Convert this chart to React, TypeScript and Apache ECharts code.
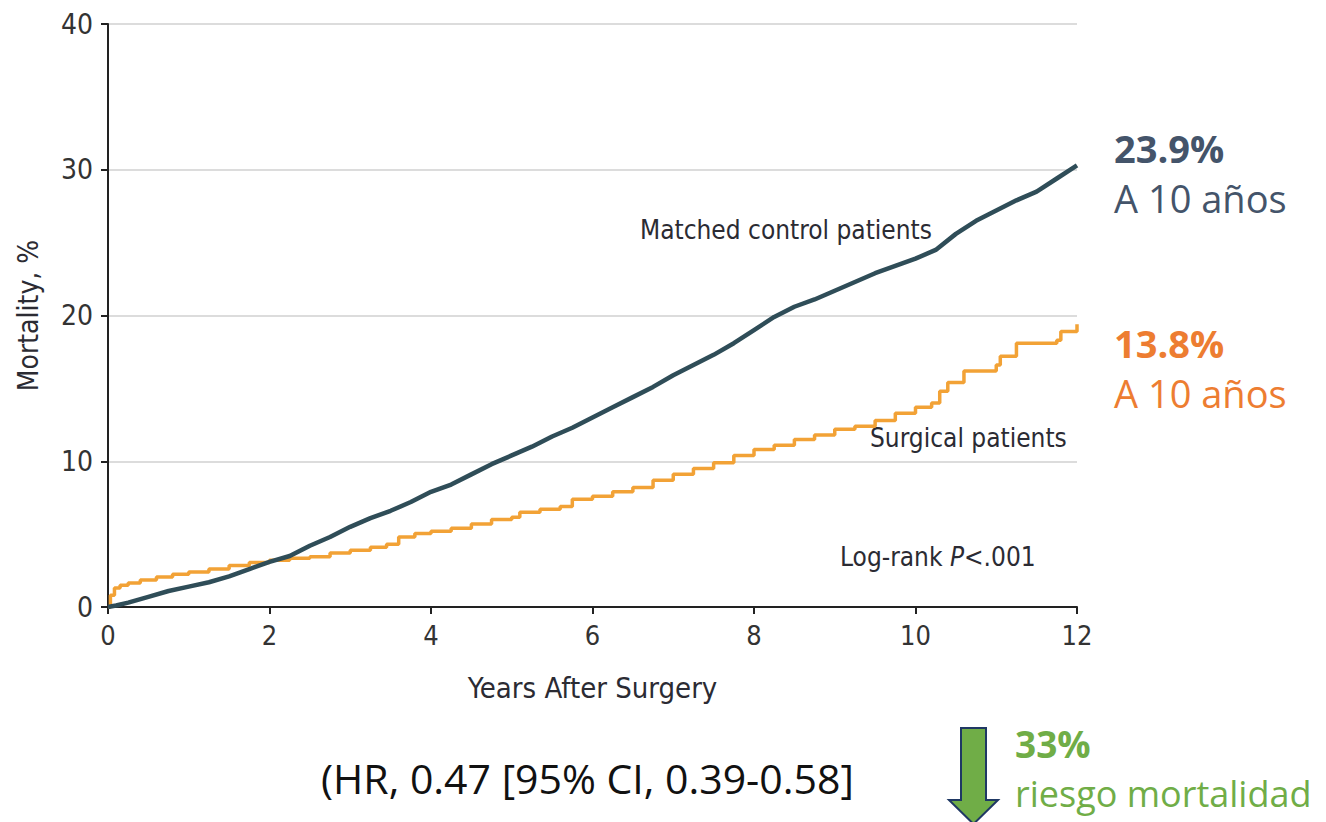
import React, { useEffect, useRef } from "react";
import * as echarts from "echarts";

// Cumulative mortality (%) by years after surgery
const controlYears = [0, 0.1, 0.25, 0.5, 0.75, 1.0, 1.25, 1.5, 1.75, 2.0, 2.25, 2.5, 2.75, 3.0, 3.25, 3.5, 3.75, 4.0, 4.25, 4.5, 4.75, 5.0, 5.25, 5.5, 5.75, 6.0, 6.25, 6.5, 6.75, 7.0, 7.25, 7.5, 7.75, 8.0, 8.25, 8.5, 8.75, 9.0, 9.25, 9.5, 9.75, 10.0, 10.25, 10.5, 10.75, 11.0, 11.25, 11.5, 11.75, 12.0];
const controlMortality = [0, 0.1, 0.3, 0.7, 1.1, 1.4, 1.7, 2.1, 2.6, 3.1, 3.5, 4.2, 4.8, 5.5, 6.1, 6.6, 7.2, 7.9, 8.4, 9.1, 9.8, 10.4, 11.0, 11.7, 12.3, 13.0, 13.7, 14.4, 15.1, 15.9, 16.6, 17.3, 18.1, 19.0, 19.9, 20.6, 21.1, 21.7, 22.3, 22.9, 23.4, 23.9, 24.5, 25.6, 26.5, 27.2, 27.9, 28.5, 29.4, 30.3];

const surgicalYears = [0, 0.03, 0.08, 0.15, 0.25, 0.4, 0.6, 0.8, 1.0, 1.25, 1.5, 1.75, 2.0, 2.25, 2.5, 2.75, 3.0, 3.25, 3.45, 3.6, 3.8, 4.0, 4.25, 4.5, 4.75, 5.0, 5.1, 5.35, 5.6, 5.75, 6.0, 6.25, 6.5, 6.75, 7.0, 7.25, 7.5, 7.75, 8.0, 8.25, 8.5, 8.75, 9.0, 9.25, 9.5, 9.75, 10.0, 10.2, 10.3, 10.4, 10.6, 11.0, 11.05, 11.25, 11.75, 11.8, 12.0];
const surgicalMortality = [0, 0.8, 1.3, 1.5, 1.65, 1.85, 2.05, 2.25, 2.4, 2.6, 2.85, 3.05, 3.2, 3.35, 3.45, 3.7, 3.9, 4.1, 4.3, 4.8, 5.05, 5.2, 5.4, 5.7, 6.0, 6.15, 6.5, 6.7, 6.9, 7.4, 7.6, 7.9, 8.2, 8.7, 9.1, 9.5, 9.9, 10.4, 10.8, 11.1, 11.5, 11.8, 12.2, 12.4, 12.8, 13.3, 13.7, 14.0, 14.8, 15.4, 16.2, 16.6, 17.2, 18.1, 18.3, 18.9, 19.4];

const xTicks = [0, 2, 4, 6, 8, 10, 12];
const yTicks = [0, 10, 20, 30, 40];

const controlLabel = "Matched control patients";
const surgicalLabel = "Surgical patients";
const controlAt10 = "23.9%";
const surgicalAt10 = "13.8%";
const atTenYears = "A 10 años";
const hazardText = "(HR, 0.47 [95% CI, 0.39-0.58]";
const riskDrop = "33%";
const riskText = "riesgo mortalidad";

const CONTROL_COLOR = "#2f4d58";
const SURGICAL_COLOR = "#f2a236";
const NARROW = "'Liberation Sans Narrow', 'DejaVu Sans Condensed', 'Noto Sans', sans-serif";
const SLIDE = "'Open Sans', 'Noto Sans', sans-serif";
const INK = "#2b2b33";

const zip = (xs: number[], ys: number[]) => xs.map((x, i) => [x, ys[i]]);

export default function App() {
  const ref = useRef<HTMLDivElement>(null);

  useEffect(() => {
    if (!ref.current) return;
    const chart = echarts.init(ref.current, undefined, { renderer: "svg" });
    const note = (text: string, x: number, y: number, font: string, fill: string) => ({
      type: "text",
      x,
      y,
      style: { text, font, fill, textVerticalAlign: "middle" },
    });
    chart.setOption({
      animation: false,
      backgroundColor: "#ffffff",
      grid: { left: 108, right: 249, top: 24, bottom: 215 },
      xAxis: {
        type: "value",
        min: 0,
        max: 12,
        interval: 2,
        name: "Years After Surgery",
        nameLocation: "middle",
        nameGap: 66,
        nameTextStyle: { fontFamily: NARROW, fontSize: 29, color: INK },
        axisLine: { show: true, onZero: false, lineStyle: { color: "#222", width: 2 } },
        axisTick: { show: true, length: 7, lineStyle: { color: "#222", width: 2 } },
        axisLabel: {
          fontFamily: NARROW,
          fontSize: 27,
          color: "#333",
          margin: 15,
          formatter: (v: number) => (xTicks.includes(v) ? String(v) : ""),
        },
        splitLine: { show: false },
      },
      yAxis: {
        type: "value",
        min: 0,
        max: 40,
        interval: 10,
        name: "Mortality, %",
        nameLocation: "middle",
        nameGap: 66,
        nameRotate: 90,
        nameTextStyle: { fontFamily: NARROW, fontSize: 28, color: INK },
        axisLine: { show: true, lineStyle: { color: "#222", width: 2 } },
        axisTick: { show: true, length: 7, lineStyle: { color: "#222", width: 2 } },
        axisLabel: {
          fontFamily: NARROW,
          fontSize: 28,
          color: "#333",
          margin: 15,
          formatter: (v: number) => (yTicks.includes(v) ? String(v) : ""),
        },
        splitLine: { show: true, lineStyle: { color: "#dcdcdc", width: 2 } },
      },
      series: [
        {
          name: surgicalLabel,
          type: "line",
          step: "end",
          showSymbol: false,
          data: zip(surgicalYears, surgicalMortality),
          lineStyle: { color: SURGICAL_COLOR, width: 3.5 },
          z: 3,
        },
        {
          name: controlLabel,
          type: "line",
          showSymbol: false,
          data: zip(controlYears, controlMortality),
          lineStyle: { color: CONTROL_COLOR, width: 4.5 },
          z: 4,
        },
      ],
      graphic: [
        note(controlLabel, 640, 230, `26px ${NARROW}`, INK),
        note(surgicalLabel, 870, 438, `26px ${NARROW}`, INK),
        {
          type: "text",
          x: 840,
          y: 557,
          style: {
            text: "{n|Log-rank }{i|P}{n|<.001}",
            textVerticalAlign: "middle",
            rich: {
              n: { font: `26px ${NARROW}`, fill: INK },
              i: { font: `italic 26px ${NARROW}`, fill: INK },
            },
          },
        },
        note(controlAt10, 1114, 148, `bold 38px ${SLIDE}`, "#44546a"),
        note(atTenYears, 1114, 198, `38px ${SLIDE}`, "#44546a"),
        note(surgicalAt10, 1114, 343, `bold 38px ${SLIDE}`, "#ed7d31"),
        note(atTenYears, 1114, 393, `38px ${SLIDE}`, "#ed7d31"),
        note(hazardText, 321, 778, `41px ${SLIDE}`, "#111111"),
        {
          type: "polygon",
          shape: {
            points: [
              [961, 728],
              [986, 728],
              [986, 800],
              [998, 800],
              [973.5, 824],
              [949, 800],
              [961, 800],
            ],
          },
          style: { fill: "#70ad47", stroke: "#1f3864", lineWidth: 2 },
        },
        note(riskDrop, 1015, 743, `bold 37px ${SLIDE}`, "#70ad47"),
        note(riskText, 1015, 793, `36px ${SLIDE}`, "#70ad47"),
      ],
    });
    return () => chart.dispose();
  }, []);

  return (
    <div
      ref={ref}
      style={{ position: "fixed", left: 0, top: 0, width: 1326, height: 822, background: "#fff" }}
    />
  );
}
